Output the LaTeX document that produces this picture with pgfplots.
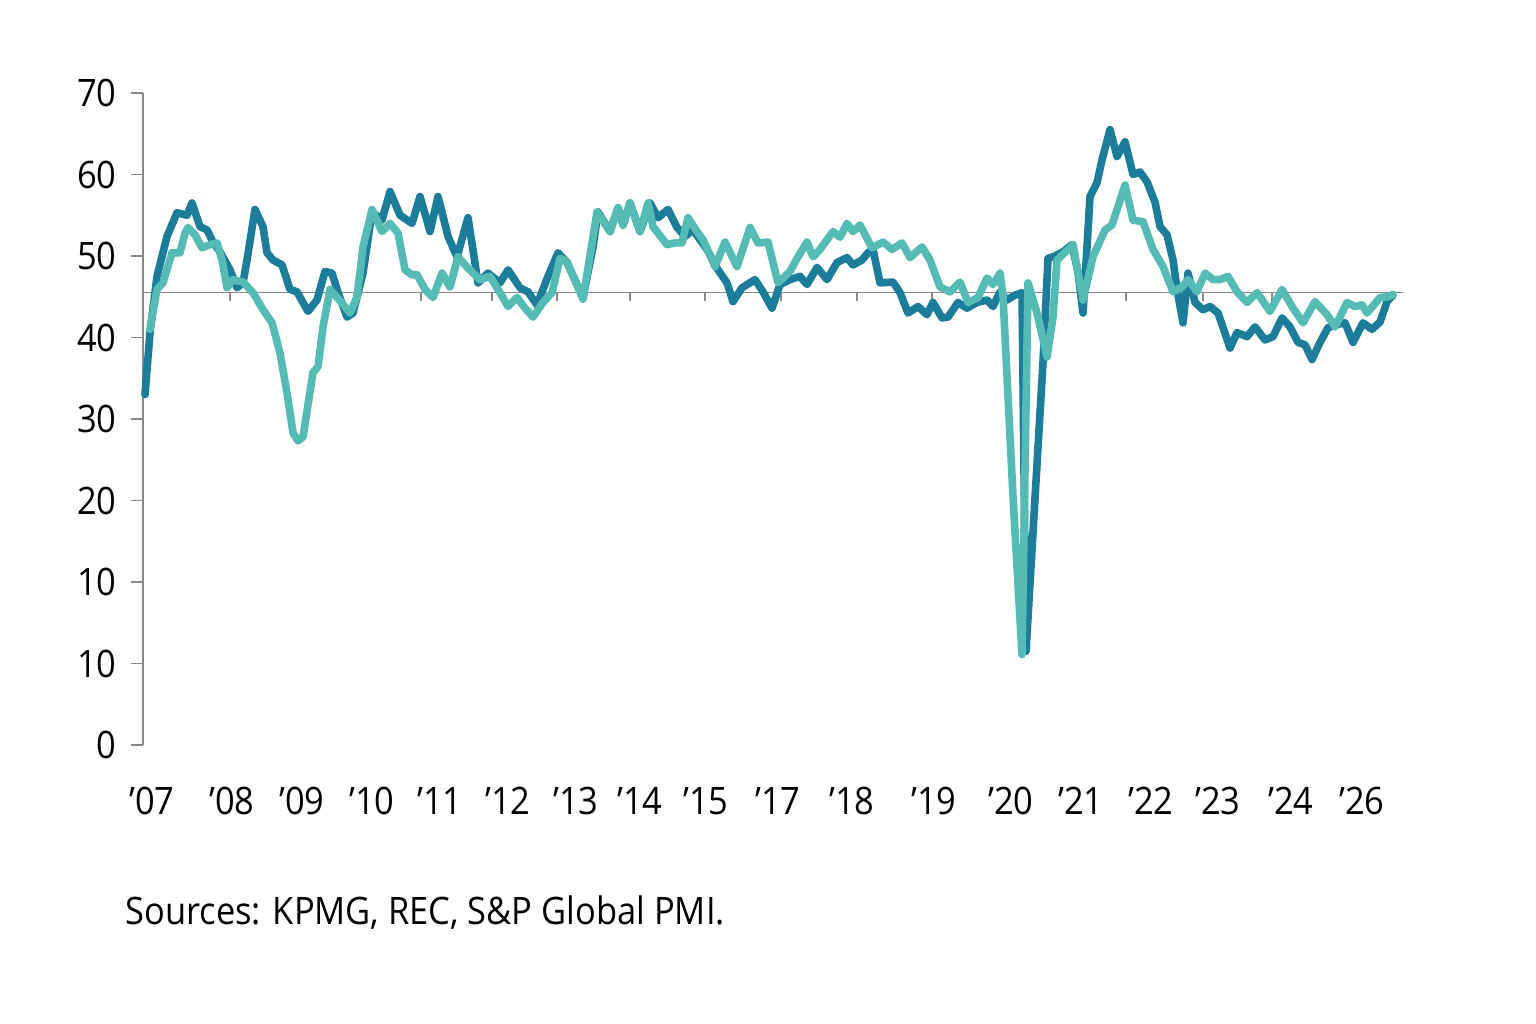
\documentclass[border=0pt]{standalone}
\usepackage{fontspec}
\setmainfont{Open Sans}[FakeStretch=0.91]
\usepackage{pgfplots}
\pgfplotsset{compat=1.18}
\definecolor{darkteal}{HTML}{1C7D9B}
\definecolor{lightteal}{HTML}{55BBB5}
\definecolor{axgray}{HTML}{8A8A8A}
\begin{document}
\begin{tikzpicture}[x=1bp,y=1bp]
\useasboundingbox (0,0) rectangle (768,512);
\begin{axis}[
  at={(71.5bp,139.5bp)}, anchor=south west,
  scale only axis, width=630bp, height=326bp,
  xmin=143, xmax=1403, ymin=-10, ymax=70,
  axis x line*=bottom, axis y line*=left,
  x axis line style={draw=none},
  y axis line style={axgray, line width=0.8bp},
  ytick={-10,0,10,20,30,40,50,60,70},
  yticklabels={0,10,10,20,30,40,50,60,70},
  tick align=outside,
  major tick length=6bp,
  y tick style={axgray, line width=0.8bp},
  x tick style={draw=none},
  xtick={152,232,302,372,440,508,576,640,706,778,852,934,1011,1081,1151,1218,1291,1362},
  xticklabels={’07,’08,’09,’10,’11,’12,’13,’14,’15,’17,’18,’19,’20,’21,’22,’23,’24,’26},
  xticklabel style={anchor=base, inner sep=0pt, yshift=-29bp},
  yticklabel style={anchor=east, inner sep=0pt, xshift=-7bp},
  tick label style={font=\fontsize{19}{22}\selectfont},
  /pgf/number format/assume math mode=true,
  clip=false,
]
\addplot[axgray, line width=0.8bp] coordinates {(143,45.5) (1403,45.5)};
\foreach \t in {230,421,492,557,630,705,781,857,932,1126,1203,1272}{
  \edef\temp{\noexpand\draw[axgray, line width=0.8bp] (axis cs:\t,45.5) -- (axis cs:\t,44.5);}
  \temp
}
\addplot[darkteal, line width=3.8bp, line join=round, line cap=round] coordinates {
(145,33)(150,40.6)(157,47.5)(167,52.4)(177,55.3)(187,55)(192,56.5)(200,53.6)(207,53.2)(213,51.7)(220,50.5)(230,48.3)(237,46.1)(243,46.7)(247,49.5)(255,55.7)(263,53.6)(267,50.4)(273,49.5)(282,48.9)(290,45.9)(297,45.6)(308,43.2)(317,44.6)(325,48.1)(332,47.9)(338,45.5)(347,42.5)(353,43)(363,47.9)(372,55.4)(382,54.4)(390,57.9)(400,55)(412,54)(420,57.3)(430,53)(438,57.3)(448,52.4)(457,49.9)(468,54.7)(478,46.7)(488,47.9)(500,46.7)(508,48.3)(520,46.1)(528,45.6)(537,44)(548,47.5)(558,50.4)(567,49.2)(583,44.9)(593,51.1)(598,55.4)(610,53)(618,55.9)(623,53.8)(630,56.5)(640,53)(650,56.5)(658,54.7)(668,55.7)(677,53.5)(685,52.4)(693,53.2)(707,50.8)(718,48.3)(727,46.7)(733,44.4)(742,46.1)(755,47.1)(763,45.6)(772,43.6)(780,46.5)(790,47.1)(800,47.5)(807,46.5)(817,48.6)(827,47.1)(837,49.2)(847,49.8)(853,48.9)(862,49.5)(868,50.4)(873,50.8)(880,46.7)(893,46.8)(900,45.5)(908,43)(918,43.8)(927,42.8)(933,44.3)(942,42.4)(948,42.5)(958,44.3)(967,43.6)(977,44.3)(987,44.6)(993,43.8)(1000,45.6)(1007,44.6)(1015,45.2)(1022,45.5)(1026,1.5)(1043,37)(1048,49.7)(1055,50)(1063,50.5)(1072,51.4)(1078,48)(1083,43)(1090,57.3)(1097,59)(1102,61.8)(1110,65.5)(1117,62.2)(1125,64)(1133,60)(1140,60.3)(1147,59.1)(1155,56.6)(1160,53.6)(1167,52.6)(1173,49.5)(1177,45.9)(1183,41.8)(1188,47.9)(1195,44.3)(1203,43.4)(1210,43.8)(1218,43)(1230,38.7)(1237,40.6)(1247,40.1)(1255,41.3)(1265,39.7)(1273,40.1)(1282,42.4)(1290,41.3)(1298,39.4)(1305,39.1)(1312,37.3)(1320,39.4)(1328,41.2)(1337,41.6)(1345,41.8)(1353,39.4)(1363,41.8)(1372,41)(1380,41.9)(1387,44.4)(1393,45.2)
};
\addplot[lightteal, line width=3.8bp, line join=round, line cap=round] coordinates {
(150,41)(157,45.9)(163,46.7)(172,50.4)(180,50.4)(185,52.8)(188,53.5)(195,52.6)(202,51)(210,51.4)(217,51.6)(222,49.5)(227,46.1)(233,47.1)(243,46.8)(253,45.5)(263,43.4)(272,41.8)(280,38.1)(287,33.2)(293,28.3)(298,27.3)(303,27.8)(313,35.7)(318,36.4)(323,41.3)(330,45.9)(340,44.5)(350,43)(357,45)(363,51.1)(372,55.7)(382,53)(390,54)(398,52.8)(405,48.3)(412,47.7)(417,47.7)(425,45.9)(433,44.9)(442,47.9)(450,46.2)(458,49.9)(468,48.5)(480,47.1)(490,47.5)(500,45.5)(508,43.8)(517,44.9)(525,43.6)(533,42.5)(543,44.3)(552,45.5)(560,49.7)(567,49.3)(583,44.7)(597,55.4)(610,53)(618,55.9)(623,53.8)(630,56.5)(640,53)(648,56.5)(653,53.6)(667,51.4)(675,51.6)(682,51.6)(688,54.7)(697,53)(703,52)(715,48.7)(725,51.7)(737,48.7)(750,53.5)(758,51.6)(768,51.7)(778,46.7)(790,48.1)(798,49.9)(807,51.7)(813,49.9)(820,50.8)(833,53)(840,52.3)(847,54)(853,53)(860,53.8)(872,51)(883,51.7)(892,50.8)(902,51.6)(910,49.8)(922,51.1)(930,49.5)(940,46.2)(950,45.6)(960,46.8)(968,44.3)(978,44.9)(987,47.3)(993,46.5)(1000,47.9)(1003,45)(1013,20.5)(1022,1.1)(1028,46.7)(1037,43)(1047,37.6)(1053,42.5)(1057,49.5)(1073,51.4)(1083,44.6)(1093,49.9)(1105,53.2)(1112,53.8)(1125,58.7)(1133,54.4)(1143,54.2)(1153,50.8)(1163,48.7)(1173,45.6)(1182,46.2)(1188,47.1)(1197,45.6)(1205,47.9)(1213,47.1)(1220,47.1)(1228,47.5)(1237,45.6)(1247,44.3)(1257,45.5)(1270,43.2)(1282,45.9)(1292,43.8)(1303,41.8)(1315,44.4)(1327,42.8)(1335,41.3)(1347,44.3)(1355,43.8)(1362,44)(1367,43)(1380,44.9)(1388,45)(1393,45.3)
};
\end{axis}
\node[anchor=base west, inner sep=0pt, font=\fontsize{19}{22}\selectfont] at (62.5,49.5) {Sources: KPMG, REC, S\&P Global PMI.};
\end{tikzpicture}
\end{document}
